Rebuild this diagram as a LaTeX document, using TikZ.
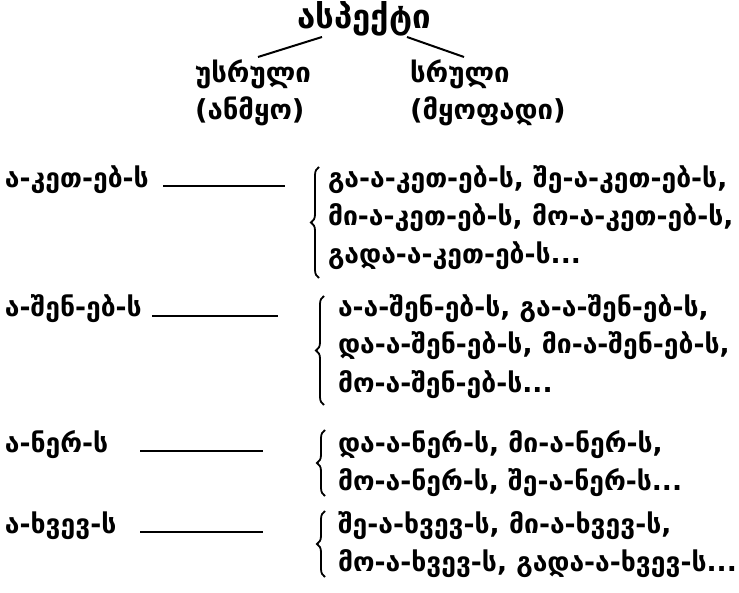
\documentclass[tikz,border=0pt]{standalone}
\usepackage{fontspec}
\setmainfont{DejaVu Sans}
\usetikzlibrary{decorations.pathreplacing}
\begin{document}
\begin{tikzpicture}[x=1pt,y=-1pt,
  every node/.style={inner sep=0pt,outer sep=0pt},
  txt/.style={anchor=base west,font=\fontsize{26.5}{30}\selectfont\bfseries},
  sub/.style={anchor=base west,font=\fontsize{27.5}{30}\selectfont\bfseries},
  ttl/.style={anchor=base,font=\fontsize{33}{36}\selectfont\bfseries},
  conn/.style={line width=2pt},
  br/.style={decorate,decoration={brace,amplitude=8pt},line width=1.8pt}]
\useasboundingbox (0,0) rectangle (739,593);
% title
\node[ttl] (title) at (364,29) {ასპექტი};
\node[sub] (impf) at (195,83) {უსრული};
\node[sub] (impfb) at (195,120) {(ანმყო)};
\node[sub] (perf) at (410,83) {სრული};
\node[sub] (perfb) at (410,120) {(მყოფადი)};
\coordinate (t1) at (322,37);
\coordinate (t2) at (258,57);
\coordinate (t3) at (407,37);
\coordinate (t4) at (464,57);
\draw[conn] (t1) -- (t2);
\draw[conn] (t3) -- (t4);
% row 1
\node[txt] (r1) at (5,188) {ა-კეთ-ებ-ს};
\coordinate (r1a) at (163,186); \coordinate (r1b) at (285,186);
\draw[conn] (r1a) -- (r1b);
\node[txt] (r1x) at (328,188) {გა-ა-კეთ-ებ-ს, შე-ა-კეთ-ებ-ს,};
\node[txt] (r1y) at (328,226) {მი-ა-კეთ-ებ-ს, მო-ა-კეთ-ებ-ს,};
\node[txt] (r1z) at (328,264) {გადა-ა-კეთ-ებ-ს...};
\coordinate (b1t) at (319,167); \coordinate (b1b) at (319,278);
\draw[br] (b1b) -- (b1t);
% row 2
\node[txt] (r2) at (5,317) {ა-შენ-ებ-ს};
\coordinate (r2a) at (152,316); \coordinate (r2b) at (278,316);
\draw[conn] (r2a) -- (r2b);
\node[txt] (r2x) at (338,317) {ა-ა-შენ-ებ-ს, გა-ა-შენ-ებ-ს,};
\node[txt] (r2y) at (338,354) {და-ა-შენ-ებ-ს, მი-ა-შენ-ებ-ს,};
\node[txt] (r2z) at (338,392) {მო-ა-შენ-ებ-ს...};
\coordinate (b2t) at (324,296); \coordinate (b2b) at (324,405);
\draw[br] (b2b) -- (b2t);
% row 3
\node[txt] (r3) at (5,452) {ა-ნერ-ს};
\coordinate (r3a) at (140,451); \coordinate (r3b) at (263,451);
\draw[conn] (r3a) -- (r3b);
\node[txt] (r3x) at (338,452) {და-ა-ნერ-ს, მი-ა-ნერ-ს,};
\node[txt] (r3y) at (338,490) {მო-ა-ნერ-ს, შე-ა-ნერ-ს...};
\coordinate (b3t) at (325,430); \coordinate (b3b) at (325,496);
\draw[br] (b3b) -- (b3t);
% row 4
\node[txt] (r4) at (5,533) {ა-ხვევ-ს};
\coordinate (r4a) at (140,532); \coordinate (r4b) at (263,532);
\draw[conn] (r4a) -- (r4b);
\node[txt] (r4x) at (338,533) {შე-ა-ხვევ-ს, მი-ა-ხვევ-ს,};
\node[txt] (r4y) at (338,571) {მო-ა-ხვევ-ს, გადა-ა-ხვევ-ს...};
\coordinate (b4t) at (325,511); \coordinate (b4b) at (325,577);
\draw[br] (b4b) -- (b4t);
\end{tikzpicture}
\end{document}
